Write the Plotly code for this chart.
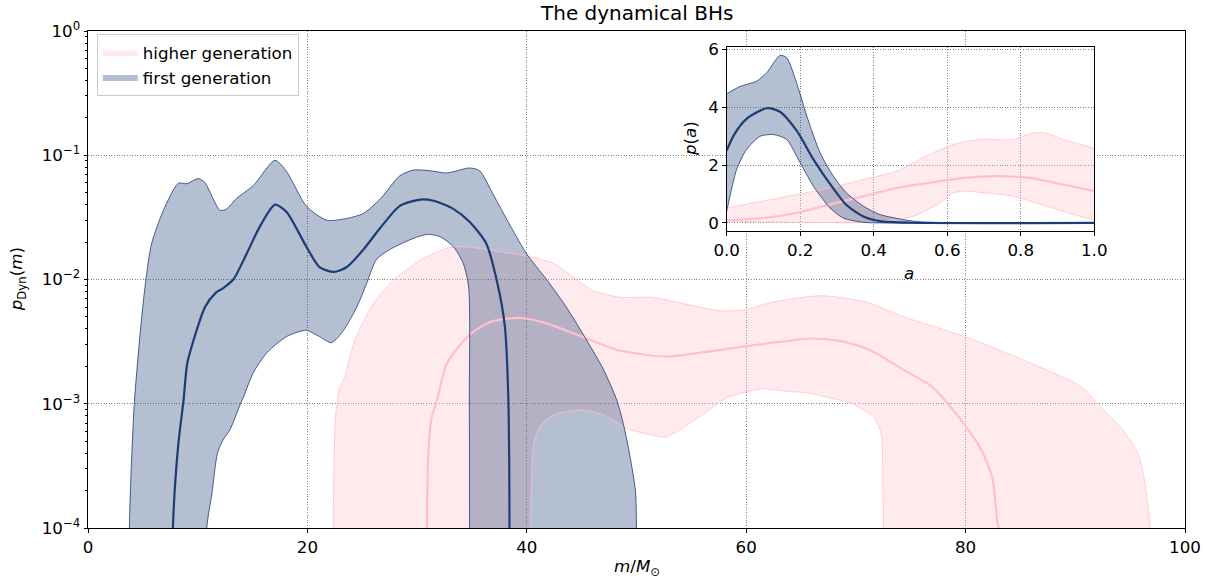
import numpy as np
import plotly.graph_objects as go

# ---------------- main panel data (m in Msun, p_Dyn(m)); 0 = below plot floor
blue_upper_m = [3.72, 3.77, 4.22, 4.9, 5.35, 5.8, 6.87, 8.24, 9.0, 10.06, 10.67, 12.03, 12.64, 13.55,
                15.07, 17.05, 18.1, 19.9, 21.76, 23.6, 25.1, 26.6, 28.4, 29.65, 31.2, 32.7, 34.8,
                35.7, 36.9, 38.5, 40.0, 41.8, 43.6, 45.5, 46.97, 48.2, 48.8, 49.4, 49.9, 50.0, 50.05]
blue_upper_p = [0, 1.0e-4, 1.0e-3, 5.0e-3, 1.12e-2, 1.95e-2, 3.6e-2, 5.96e-2, 5.9e-2, 6.5e-2, 6.0e-2,
                3.6e-2, 3.7e-2, 4.5e-2, 5.7e-2, 9.1e-2, 7.4e-2, 3.9e-2, 3.0e-2, 3.1e-2, 3.4e-2,
                4.4e-2, 6.8e-2, 7.6e-2, 7.5e-2, 7.2e-2, 7.9e-2, 7.5e-2, 4.9e-2, 2.7e-2, 1.6e-2,
                1.0e-2, 6.0e-3, 3.2e-3, 1.9e-3, 1.07e-3, 6.9e-4, 3.8e-4, 2.0e-4, 1.0e-4, 0]
blue_lower_m = [10.78, 10.83, 11.3, 11.8, 12.3, 12.95, 13.9, 14.2, 15.07, 16.3, 18.1, 19.9, 21.1, 22.2,
                23.3, 24.5, 25.4, 26.3, 27.5, 29.65, 31.0, 32.1, 33.3, 34.2, 34.7, 34.76, 34.78, 34.8]
blue_lower_p = [0, 1.0e-4, 1.9e-4, 4.0e-4, 5.1e-4, 6.2e-4, 1.0e-3, 1.15e-3, 1.78e-3, 2.57e-3, 3.47e-3,
                3.9e-3, 3.47e-3, 3.1e-3, 3.9e-3, 6.0e-3, 9.3e-3, 1.45e-2, 1.74e-2, 2.14e-2, 2.31e-2,
                2.21e-2, 1.84e-2, 1.35e-2, 8.7e-3, 1.07e-3, 1.0e-4, 0]
blue_med_m = [7.7, 7.74, 8.22, 8.71, 9.04, 9.6, 10.67, 11.64, 12.3, 13.25, 14.47, 15.7, 17.05, 18.1,
              19.9, 21.1, 22.4, 23.6, 25.1, 26.6, 28.4, 30.3, 31.5, 33.3, 34.8, 36.3, 37.3,
              38.0, 38.3, 38.4, 38.42, 38.45]
blue_med_p = [0, 1.0e-4, 4.6e-4, 1.07e-3, 2.1e-3, 3.2e-3, 6.0e-3, 7.8e-3, 8.5e-3, 1.0e-2, 1.62e-2,
              2.7e-2, 4.0e-2, 3.5e-2, 1.84e-2, 1.26e-2, 1.15e-2, 1.26e-2, 1.74e-2, 2.57e-2, 3.9e-2,
              4.4e-2, 4.3e-2, 3.7e-2, 2.9e-2, 1.95e-2, 9.5e-3, 4.2e-3, 1.26e-3, 3.2e-4,
              1.0e-4, 0]

pink_upper_m = [22.3, 22.35, 22.55, 22.9, 23.4, 24.3, 25.3, 26.3, 28.0, 30.6, 32.7, 34.2, 37.5, 40.2,
                42.4, 44.2, 46.1, 48.5, 51.3, 54.6, 57.6, 59.9, 62.2, 65.2, 67.1, 70.9, 74.4, 79.8,
                83.1, 86.6, 90.5, 92.6, 94.3, 95.7, 96.2, 96.8, 96.85]
pink_upper_p = [0, 1.0e-4, 7.4e-4, 1.29e-3, 1.66e-3, 3.2e-3, 5.0e-3, 6.9e-3, 1.02e-2, 1.48e-2, 1.78e-2,
                1.84e-2, 1.68e-2, 1.53e-2, 1.35e-2, 1.05e-2, 8.1e-3, 7.2e-3, 7.2e-3, 6.3e-3, 5.6e-3,
                5.7e-3, 6.5e-3, 7.2e-3, 7.4e-3, 6.6e-3, 5.0e-3, 3.5e-3, 2.7e-3, 2.0e-3, 1.38e-3,
                8.9e-4, 6.2e-4, 4.0e-4, 2.75e-4, 1.0e-4, 0]
pink_lower_m = [40.3, 40.35, 40.45, 40.6, 41.2, 42.4, 44.85, 46.4, 47.9, 49.1, 50.9, 52.6, 54.0, 56.1,
                58.2, 59.9, 61.6, 63.7, 65.7, 67.5, 69.5, 71.6, 72.3, 72.45, 72.5, 72.55]
pink_lower_p = [0, 1.0e-4, 2.5e-4, 4.6e-4, 6.6e-4, 8.1e-4, 8.9e-4, 8.5e-4, 7.4e-4, 6.3e-4, 5.75e-4,
                5.4e-4, 6.2e-4, 8.3e-4, 1.11e-3, 1.24e-3, 1.32e-3, 1.26e-3, 1.22e-3, 1.12e-3, 1.01e-3,
                7.9e-4, 5.75e-4, 2.5e-4, 1.0e-4, 0]
pink_med_m = [30.85, 30.9, 31.0, 31.3, 31.8, 32.7, 34.8, 36.8, 39.4, 41.6, 44.9, 48.3, 52.6, 56.1,
              59.9, 63.7, 66.0, 69.0, 71.5, 74.4, 76.9, 78.6, 80.0, 81.4, 82.45, 82.9, 83.0, 83.05]
pink_med_p = [0, 1.0e-4, 3.5e-4, 7.6e-4, 1.05e-3, 2.1e-3, 3.6e-3, 4.6e-3, 4.9e-3, 4.5e-3, 3.5e-3,
              2.7e-3, 2.4e-3, 2.6e-3, 2.9e-3, 3.2e-3, 3.35e-3, 3.15e-3, 2.65e-3, 1.86e-3, 1.38e-3,
              9.5e-4, 6.6e-4, 4.3e-4, 2.5e-4, 1.1e-4, 1.0e-4, 0]

# ---------------- inset data (spin a, p(a))
in_blue_upper_a = [0, 0.036, 0.082, 0.109, 0.145, 0.163, 0.19, 0.218, 0.254, 0.29, 0.326, 0.372, 0.417,
                   0.508, 0.6, 0.7, 1.0]
in_blue_upper_p = [4.47, 4.72, 4.91, 5.2, 5.8, 5.72, 4.86, 3.70, 2.43, 1.62, 1.04, 0.58, 0.29, 0.06,
                   0.01, 0.0, 0.0]
in_blue_lower_a = [0, 0.009, 0.027, 0.054, 0.091, 0.127, 0.163, 0.2, 0.236, 0.281, 0.317, 0.372, 0.417, 1.0]
in_blue_lower_p = [0.4, 0.92, 1.85, 2.54, 3.0, 3.06, 2.89, 2.08, 1.27, 0.52, 0.17, 0.02, 0.0, 0.0]
in_blue_med_a = [0, 0.02, 0.054, 0.109, 0.145, 0.19, 0.236, 0.281, 0.326, 0.372, 0.417, 0.5, 1.0]
in_blue_med_p = [2.5, 3.05, 3.6, 3.97, 3.85, 3.2, 2.2, 1.35, 0.62, 0.22, 0.06, 0.005, 0.0]

in_pink_upper_a = [0, 0.145, 0.281, 0.372, 0.462, 0.508, 0.562, 0.617, 0.689, 0.78, 0.834, 0.87, 0.916,
                   0.961, 1.0]
in_pink_upper_p = [0.52, 0.87, 1.21, 1.5, 1.79, 2.08, 2.43, 2.72, 2.89, 2.89, 3.12, 3.1, 2.89, 2.72, 2.57]
in_pink_lower_a = [0, 0.2, 0.4, 0.417, 0.508, 0.58, 0.617, 0.644, 0.689, 0.78, 0.87, 0.961, 1.0]
in_pink_lower_p = [0.06, 0.02, 0.02, 0.06, 0.23, 0.69, 1.04, 1.1, 1.06, 0.92, 0.58, 0.23, 0.12]
in_pink_med_a = [0, 0.1, 0.19, 0.281, 0.372, 0.462, 0.553, 0.644, 0.735, 0.825, 0.916, 1.0]
in_pink_med_p = [0.09, 0.17, 0.35, 0.64, 0.92, 1.21, 1.39, 1.56, 1.62, 1.56, 1.33, 1.1]

x_ticks = [0, 20, 40, 60, 80, 100]
y_exps = [-4, -3, -2, -1, 0]
in_x_ticks = [0, 0.2, 0.4, 0.6, 0.8, 1.0]
in_y_ticks = [0, 2, 4, 6]

# ---------------- styling
BLUE = "#1c3c74"
BLUE_FILL = "rgba(28,60,116,0.33)"
PINK = "#ffc0cb"
PINK_FILL = "rgba(255,192,203,0.32)"
FLOOR = 1e-7
FONT = "DejaVu Sans"
FS = 16.7
SMOOTH = 0.7


def floor(v):
    v = np.asarray(v, dtype=float)
    return np.where(v > 0, v, FLOOR)


def band_poly(ux, uy, lx, ly):
    return list(ux) + list(lx)[::-1], list(uy) + list(ly)[::-1]


fig = go.Figure()

# legend-only entries
fig.add_trace(go.Scatter(x=[None], y=[None], mode="lines", fill="toself", fillcolor=PINK_FILL,
                         line=dict(width=0, color=PINK_FILL), name="higher generation"))
fig.add_trace(go.Scatter(x=[None], y=[None], mode="lines", fill="toself", fillcolor=BLUE_FILL,
                         line=dict(width=0, color=BLUE_FILL), name="first generation"))

# main fills
px_, py_ = band_poly(pink_upper_m, floor(pink_upper_p), pink_lower_m, floor(pink_lower_p))
fig.add_trace(go.Scatter(x=px_, y=py_, mode="lines", fill="toself", fillcolor=PINK_FILL,
                         line=dict(width=0, shape="spline", smoothing=SMOOTH),
                         showlegend=False, hoverinfo="skip"))
bx_, by_ = band_poly(blue_upper_m, floor(blue_upper_p), blue_lower_m, floor(blue_lower_p))
fig.add_trace(go.Scatter(x=bx_, y=by_, mode="lines", fill="toself", fillcolor=BLUE_FILL,
                         line=dict(width=0, shape="spline", smoothing=SMOOTH),
                         showlegend=False, hoverinfo="skip"))
# pink edges + median
for xs, ys, w in [(pink_upper_m, pink_upper_p, 0.8), (pink_lower_m, pink_lower_p, 0.8),
                  (pink_med_m, pink_med_p, 2.2)]:
    fig.add_trace(go.Scatter(x=xs, y=floor(ys), mode="lines",
                             line=dict(color=PINK, width=w, shape="spline", smoothing=SMOOTH),
                             showlegend=False))
# blue edges + median
for xs, ys, w in [(blue_upper_m, blue_upper_p, 0.8), (blue_lower_m, blue_lower_p, 0.8),
                  (blue_med_m, blue_med_p, 2.2)]:
    fig.add_trace(go.Scatter(x=xs, y=floor(ys), mode="lines",
                             line=dict(color=BLUE, width=w, shape="spline", smoothing=SMOOTH),
                             showlegend=False))

# inset fills
ipx, ipy = band_poly(in_pink_upper_a, in_pink_upper_p, in_pink_lower_a, in_pink_lower_p)
fig.add_trace(go.Scatter(x=ipx, y=ipy, xaxis="x2", yaxis="y2", mode="lines", fill="toself",
                         fillcolor=PINK_FILL, line=dict(width=0, shape="spline", smoothing=SMOOTH),
                         showlegend=False))
ibx, iby = band_poly(in_blue_upper_a, in_blue_upper_p, in_blue_lower_a, in_blue_lower_p)
fig.add_trace(go.Scatter(x=ibx, y=iby, xaxis="x2", yaxis="y2", mode="lines", fill="toself",
                         fillcolor=BLUE_FILL, line=dict(width=0, shape="spline", smoothing=SMOOTH),
                         showlegend=False))
for xs, ys, w in [(in_pink_upper_a, in_pink_upper_p, 0.8), (in_pink_lower_a, in_pink_lower_p, 0.8),
                  (in_pink_med_a, in_pink_med_p, 2.2)]:
    fig.add_trace(go.Scatter(x=xs, y=ys, xaxis="x2", yaxis="y2", mode="lines",
                             line=dict(color=PINK, width=w, shape="spline", smoothing=SMOOTH),
                             showlegend=False))
for xs, ys, w in [(in_blue_upper_a, in_blue_upper_p, 0.8), (in_blue_lower_a, in_blue_lower_p, 0.8),
                  (in_blue_med_a, in_blue_med_p, 2.2)]:
    fig.add_trace(go.Scatter(x=xs, y=ys, xaxis="x2", yaxis="y2", mode="lines",
                             line=dict(color=BLUE, width=w, shape="spline", smoothing=SMOOTH),
                             showlegend=False))

axis_common = dict(showline=True, mirror=True, linecolor="black", linewidth=1, ticks="outside",
                   ticklen=3.5, tickwidth=0.8, tickcolor="black", zeroline=False, automargin=False,
                   showgrid=True, gridcolor="#808080", griddash="1px,1.6px", gridwidth=0.8,
                   tickfont=dict(size=FS, color="black", family=FONT))

minor_vals = [k * 10.0 ** e for e in range(-4, 0) for k in range(2, 10)]

fig.update_layout(
    width=1205, height=582,
    margin=dict(l=88, r=20, t=31, b=54),
    paper_bgcolor="white", plot_bgcolor="white",
    font=dict(family=FONT, size=FS, color="black"),
    xaxis=dict(domain=[0, 1], range=[0, 100], tickvals=x_ticks, anchor="y", **axis_common),
    yaxis=dict(domain=[0, 1], type="log", range=[-4, 0], anchor="x",
               tickvals=[10.0 ** e for e in y_exps],
               ticktext=["10<sup>%s</sup>" % (str(e).replace("-", "\u2212")) for e in y_exps],
               minor=dict(tickvals=minor_vals, ticks="outside", ticklen=2, tickwidth=0.6,
                          tickcolor="black", showgrid=False),
               **axis_common),
    xaxis2=dict(domain=[0.5822, 0.9173], range=[0, 1], anchor="y2", tickvals=in_x_ticks,
                ticktext=["%.1f" % v for v in in_x_ticks], **axis_common),
    yaxis2=dict(domain=[0.597, 0.9684], range=[-0.29, 6.1], anchor="x2", tickvals=in_y_ticks,
                **axis_common),
    showlegend=True,
    legend=dict(x=0.008, y=0.994, xanchor="left", yanchor="top", bgcolor="rgba(255,255,255,0.85)",
                bordercolor="#cccccc", borderwidth=1, font=dict(size=FS, family=FONT),
                itemwidth=35, traceorder="normal"),
    shapes=[dict(type="rect", xref="x2", yref="y2", x0=0, x1=1, y0=-0.29, y1=6.1,
                 fillcolor="white", line=dict(width=0), layer="below")],
    annotations=[
        dict(text="The dynamical BHs", xref="paper", yref="paper", x=0.5, y=1.036,
             xanchor="center", yanchor="middle", showarrow=False, font=dict(size=20)),
        dict(text="<i>m</i>/<i>M</i><sub>\u2299</sub>", xref="paper", yref="paper", x=0.5, y=-0.08,
             xanchor="center", yanchor="middle", showarrow=False, font=dict(size=FS)),
        dict(text="<i>p</i><sub>Dyn</sub>(<i>m</i>)", xref="paper", yref="paper", x=-0.064, y=0.5,
             xanchor="center", yanchor="middle", textangle=-90, showarrow=False,
             font=dict(size=FS)),
        dict(text="<i>p</i>(<i>a</i>)", xref="paper", yref="paper", x=0.5488, y=0.7827,
             xanchor="center", yanchor="middle", textangle=-90, showarrow=False,
             font=dict(size=FS)),
        dict(text="<i>a</i>", xref="paper", yref="paper", x=0.7484, y=0.513,
             xanchor="center", yanchor="middle", showarrow=False, font=dict(size=FS)),
    ],
)

page_fix = (
    "var s='margin:0;padding:0;overflow:hidden;height:582px;width:1205px;';"
    "document.documentElement.style.cssText=s;document.body.style.cssText=s;"
)
fig.write_html("out.html", post_script=page_fix, config={"displayModeBar": False})
